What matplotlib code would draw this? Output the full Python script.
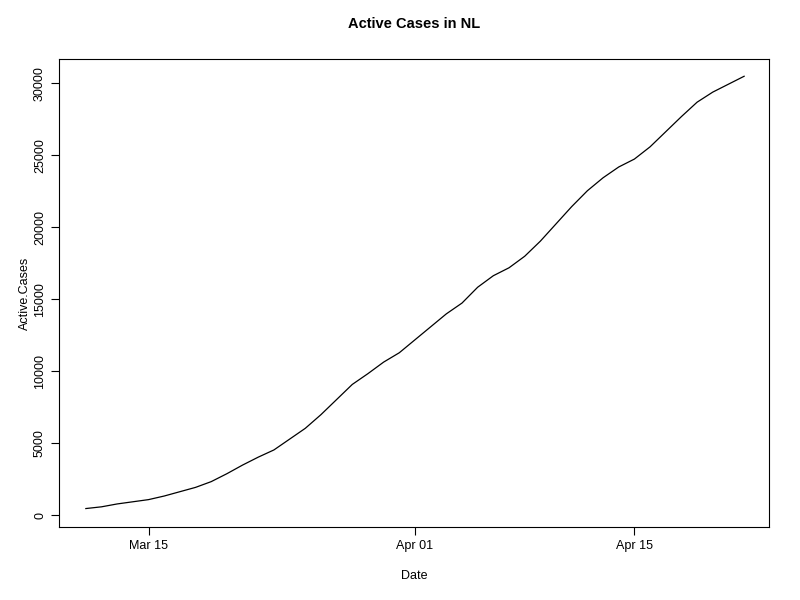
import matplotlib
matplotlib.use("Agg")
import matplotlib.pyplot as plt
import numpy as np

plt.rcParams['font.family'] = ['Liberation Sans', 'DejaVu Sans']

# days since Mar 11
days = np.arange(43)
active_cases = [480, 600, 800, 950, 1100, 1350, 1650, 1950, 2350, 2900,
                3500, 4050, 4550, 5300, 6050, 7000, 8050, 9100, 9850, 10650,
                11300, 12200, 13100, 14000, 14750, 15850, 16650, 17200, 18000, 19050,
                20250, 21450, 22550, 23450, 24200, 24750, 25600, 26650, 27700, 28700,
                29400, 29950, 30500]
tick_days = [4, 21, 35]
tick_labels = ['Mar 15', 'Apr 01', 'Apr 15']

fig = plt.figure(figsize=(8, 6), dpi=100)
ax = fig.add_axes([0.074, 0.1217, 0.8875, 0.78])
ax.plot(days, active_cases, color='black', lw=0.9)
ax.set_xlim(-1.7, 43.6)
ax.set_ylim(-800, 31700)
ax.set_xticks(tick_days)
ax.set_xticklabels(tick_labels, fontsize=9)
ax.set_yticks(range(0, 30001, 5000))
ax.set_yticklabels([str(v) for v in range(0, 30001, 5000)], fontsize=9,
                   rotation=90, va='center')
ax.tick_params(length=6, width=0.8)
ax.set_xlabel('Date', fontsize=9, labelpad=13)
ax.set_ylabel('Active.Cases', fontsize=9, labelpad=2)
ax.set_title('Active Cases in NL', fontsize=10.5, fontweight='bold', pad=22)
fig.savefig('out.png')
